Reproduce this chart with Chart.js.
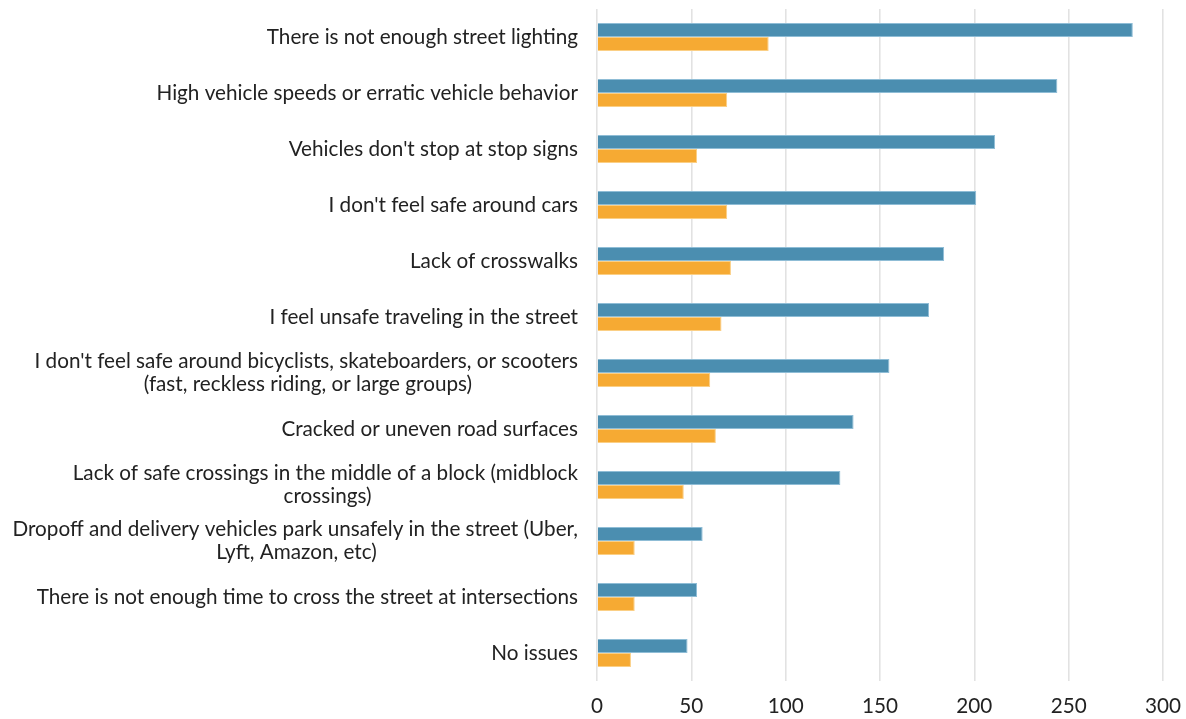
<!DOCTYPE html>
<html>
<head>
<meta charset="utf-8">
<script src="https://cdn.jsdelivr.net/npm/chart.js@4/dist/chart.umd.min.js"></script>
<style>
html,body{margin:0;padding:0;background:#fff;}
#wrap{width:1186px;height:719px;position:relative;}
</style>
</head>
<body>
<div id="wrap"><canvas id="c"></canvas></div>
<script>
const categories = [
  "There is not enough street lighting",
  "High vehicle speeds or erratic vehicle behavior",
  "Vehicles don't stop at stop signs",
  "I don't feel safe around cars",
  "Lack of crosswalks",
  "I feel unsafe traveling in the street",
  ["I don't feel safe around bicyclists, skateboarders, or scooters", "(fast, reckless riding, or large groups)"],
  "Cracked or uneven road surfaces",
  ["Lack of safe crossings in the middle of a block (midblock", "crossings)"],
  ["Dropoff and delivery vehicles park unsafely in the street (Uber,", "Lyft, Amazon, etc)"],
  "There is not enough time to cross the street at intersections",
  "No issues"
];
const seriesBlue = [284, 244, 211, 201, 184, 176, 155, 136, 129, 56, 53, 48];
const seriesOrange = [91, 69, 53, 69, 71, 66, 60, 63, 46, 20, 20, 18];
const xTicks = [0, 50, 100, 150, 200, 250, 300];

const FONT_FAMILY = "Lato";
const FONT_SIZE = 20.7;
const TEXT_COLOR = "#222222";

// center lines of a multi-line label within its own block (block right-aligned)
const mctx = document.createElement("canvas").getContext("2d");
mctx.font = FONT_SIZE + "px " + FONT_FAMILY;
function centerLines(label) {
  if (!Array.isArray(label)) return label;
  const widths = label.map(l => mctx.measureText(l).width);
  const maxW = Math.max(...widths);
  const sp = mctx.measureText(" ").width;
  return label.map((l, i) => l + " ".repeat(Math.max(0, Math.round((maxW - widths[i]) / 2 / sp))));
}

new Chart(document.getElementById("c"), {
  type: "bar",
  data: {
    labels: categories,
    datasets: [
      { label: "Series 1", data: seriesBlue, backgroundColor: "#4b8eb0", borderColor: "#8fbdd6", borderWidth: 1, borderSkipped: "start", categoryPercentage: 0.5, barPercentage: 1.0 },
      { label: "Series 2", data: seriesOrange, backgroundColor: "#f6aa33", borderColor: "#fbcf85", borderWidth: 1, borderSkipped: "start", categoryPercentage: 0.5, barPercentage: 1.0 }
    ]
  },
  options: {
    indexAxis: "y",
    responsive: true,
    maintainAspectRatio: false,
    animation: false,
    devicePixelRatio: 1,
    layout: { padding: { top: 9, right: 23, left: 0, bottom: 0 } },
    plugins: { legend: { display: false }, tooltip: { enabled: false } },
    scales: {
      x: {
        min: 0, max: 300,
        afterBuildTicks: s => { s.ticks = xTicks.map(v => ({ value: v })); },
        afterFit: s => { s.height = 38; s.paddingLeft = 0; s.paddingRight = 0; },
        border: { display: false },
        grid: { color: "#e2e2e2", lineWidth: 1.6, drawTicks: false },
        ticks: { color: TEXT_COLOR, padding: 13, font: { family: FONT_FAMILY, size: FONT_SIZE } }
      },
      y: {
        afterFit: s => { s.width = 597; s.paddingTop = 0; s.paddingBottom = 0; },
        border: { display: false },
        grid: { display: false, drawTicks: false },
        ticks: {
          color: TEXT_COLOR, padding: 19,
          font: { family: FONT_FAMILY, size: FONT_SIZE, lineHeight: 1.12 },
          callback: function (v, i) { return centerLines(categories[i]); }
        }
      }
    }
  }
});
</script>
</body>
</html>
